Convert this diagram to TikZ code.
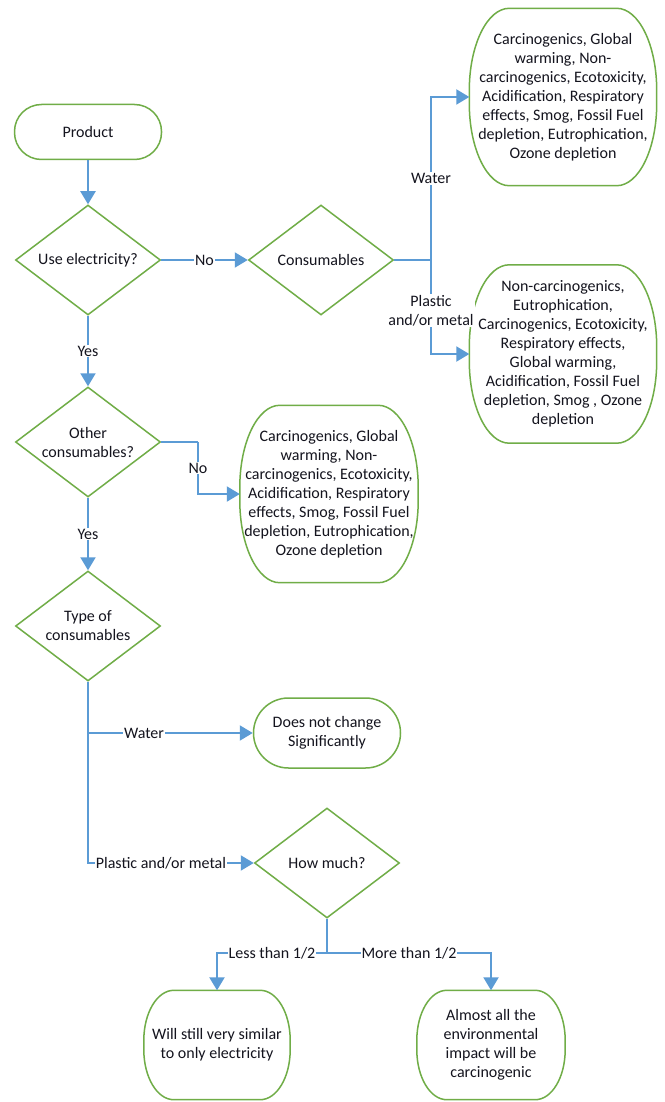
\documentclass[tikz,border=0pt]{standalone}
\usepackage{fontspec}
\setmainfont{Carlito}
\usetikzlibrary{shapes.geometric,arrows.meta}
\definecolor{gborder}{RGB}{112,173,71}
\definecolor{barrow}{RGB}{91,155,213}
\definecolor{txt}{RGB}{20,20,30}
\newcommand\ellbox[3]{\draw[gline] ([xshift=#2]#1.north west) -- ([xshift=-#2]#1.north east)
  arc[start angle=90,end angle=0,x radius=#2,y radius=#3] -- ([yshift=#3]#1.south east)
  arc[start angle=0,end angle=-90,x radius=#2,y radius=#3] -- ([xshift=#2]#1.south west)
  arc[start angle=-90,end angle=-180,x radius=#2,y radius=#3] -- ([yshift=-#3]#1.north west)
  arc[start angle=180,end angle=90,x radius=#2,y radius=#3] -- cycle;}
\begin{document}
\begin{tikzpicture}[x=1pt,y=-1pt,
  every node/.style={font=\fontsize{16}{19}\selectfont, text=txt},
  gline/.style={draw=gborder, line width=1.5pt},
  term/.style={gline, rectangle, align=center, inner sep=0pt},
  oval/.style={rectangle, align=center, inner sep=0pt},
  dia/.style={gline, diamond, aspect=1.32, minimum width=145pt, minimum height=110pt, inner sep=0pt, align=center},
  line/.style={draw=barrow, line width=2pt},
  arr/.style={line, -{Triangle[length=13pt,width=15pt]}},
  lbl/.style={fill=white, inner sep=1pt, align=center}]
\fill[white] (0,0) rectangle (664,1102);
\useasboundingbox (0,0) rectangle (664,1102);

\node[term, minimum width=147pt, minimum height=55pt, rounded corners=27pt] (prod) at (88,132) {Product};
\node[dia] (use) at (88,260) {Use electricity?};
\node[dia] (cons) at (321,260) {Consumables};
\node[oval, minimum width=187pt, minimum height=177pt] (ow) at (563,97)
  {Carcinogenics, Global\\warming, Non-\\carcinogenics, Ecotoxicity,\\Acidification, Respiratory\\effects, Smog, Fossil Fuel\\depletion, Eutrophication,\\Ozone depletion};
\node[oval, minimum width=187pt, minimum height=178pt] (op) at (563,354)
  {Non-carcinogenics,\\Eutrophication,\\Carcinogenics, Ecotoxicity,\\Respiratory effects,\\Global warming,\\Acidification, Fossil Fuel\\depletion, Smog , Ozone\\depletion};
\node[dia] (other) at (88,442) {Other\\consumables?};
\node[oval, minimum width=178pt, minimum height=177pt] (on) at (329,494)
  {Carcinogenics, Global\\warming, Non-\\carcinogenics, Ecotoxicity,\\Acidification, Respiratory\\effects, Smog, Fossil Fuel\\depletion, Eutrophication,\\Ozone depletion};
\node[dia] (type) at (88,626) {Type of\\consumables};
\node[term, minimum width=147pt, minimum height=70pt, rounded corners=35pt] (dnc) at (327,733) {Does not change\\Significantly};
\node[dia] (how) at (327,863) {How much?};
\node[oval, minimum width=146pt, minimum height=109pt] (less) at (217,1045) {Will still very similar\\to only electricity};
\node[oval, minimum width=148pt, minimum height=109pt] (more) at (491,1045) {Almost all the\\environmental\\impact will be\\carcinogenic};

\ellbox{ow}{40pt}{82pt}
\ellbox{op}{40pt}{82pt}
\ellbox{on}{40pt}{82pt}
\ellbox{less}{30pt}{50pt}
\ellbox{more}{30pt}{50pt}

\coordinate (j1) at (431,260);
\coordinate (j2) at (198,442);
\coordinate (j4) at (327,953);

\draw[arr] (prod) -- (use);
\draw[arr] (use) -- node[lbl]{No} (cons);
\draw[line] (cons.east) -- (j1);
\draw[arr] (j1) |- node[lbl,pos=0.25]{Water} (ow.west);
\draw[arr] (j1) |- node[lbl,pos=0.27]{Plastic\\and/or metal} (op.west);
\draw[arr] (use) -- node[lbl]{Yes} (other);
\draw[line] (other.east) -- (j2);
\draw[arr] (j2) |- node[lbl,pos=0.25]{No} (on.west);
\draw[arr] (other) -- node[lbl]{Yes} (type);
\draw[arr] (type.south) |- node[lbl,pos=0.67]{Water} (dnc.west);
\draw[arr] (type.south) |- node[lbl,pos=0.72]{Plastic and/or metal} (how.west);
\draw[line] (how.south) -- (j4);
\draw[arr] (j4) -| node[lbl,pos=0.25]{Less than 1/2} (less.north);
\draw[arr] (j4) -| node[lbl,pos=0.25]{More than 1/2} (more.north);
\end{tikzpicture}
\end{document}
